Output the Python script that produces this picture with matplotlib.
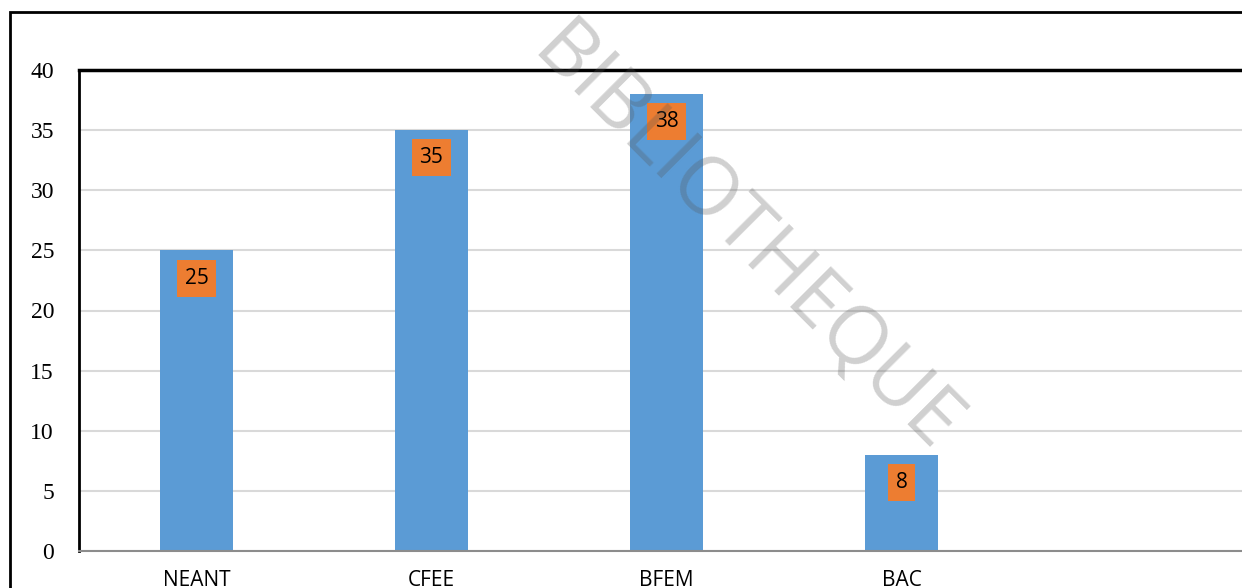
import numpy as np
import matplotlib
matplotlib.use("Agg")
import matplotlib.pyplot as plt
from matplotlib.patches import Rectangle

categories = ["NEANT", "CFEE", "BFEM", "BAC", ""]
values = [25, 35, 38, 8, 0]
yticks = [0, 5, 10, 15, 20, 25, 30, 35, 40]

W, H = 1242, 588
fig = plt.figure(figsize=(W / 100, H / 100), dpi=100)

# outer chart border (right and bottom run past the picture edge)
fig.patches.append(Rectangle((10 / W, -0.1), 1.2, 1 - 12 / H + 0.1,
                             transform=fig.transFigure, fill=False,
                             edgecolor="black", lw=2))

ax = fig.add_axes([79 / W, 1 - 551 / H, (1254 - 79) / W, (551 - 70) / H])

x = np.arange(len(categories))
bars = ax.bar(x[:4], values[:4], width=0.31, color="#5B9BD5", zorder=2)

for xi, v in zip(x[:4], values[:4]):
    ax.annotate(str(v), (xi, v), xytext=(0, -20), textcoords="offset points",
                ha="center", va="center", fontsize=15, family="Open Sans",
                bbox=dict(boxstyle="square,pad=0.38", fc="#ED7D31", ec="none"),
                zorder=3)

ax.set_xlim(-0.5, 4.5)
ax.set_ylim(0, 40)
ax.set_yticks(yticks)
ax.set_yticklabels([str(t) for t in yticks], family="Liberation Serif", fontsize=17)
ax.set_xticks(x)
ax.set_xticklabels(categories, family="Open Sans", fontsize=15)
ax.tick_params(axis="y", length=0, pad=18)
ax.tick_params(axis="x", length=0, pad=14)
ax.yaxis.grid(True, color="#D9D9D9", lw=1.5, zorder=0)
ax.set_axisbelow(True)

ax.spines["top"].set_linewidth(2.5)
ax.spines["left"].set_linewidth(2)
ax.spines["right"].set_visible(False)
ax.spines["bottom"].set_color("#8C8C8C")
ax.spines["bottom"].set_linewidth(1.5)

# diagonal watermark
fig.text(745 / W, 1 - 240 / H, "BIBLIOTHEQUE", rotation=-45, ha="center",
         va="center", fontsize=58, family="Open Sans",
         color="#555555", alpha=0.28, zorder=10)

fig.savefig("out.png", dpi=100)
